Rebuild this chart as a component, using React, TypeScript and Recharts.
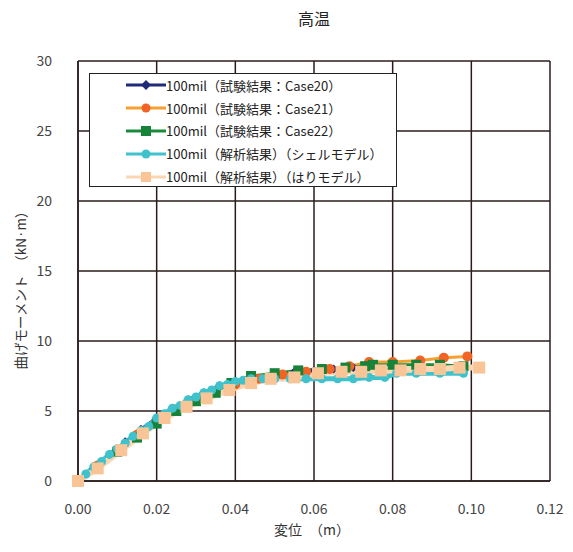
import React from "react"
import {
  LineChart,
  Line,
  XAxis,
  YAxis,
  CartesianGrid,
} from "recharts"

// 変位 (m) / 曲げモーメント (kN·m)
const disp20 = [0, 0.004, 0.008, 0.012, 0.016, 0.02, 0.024, 0.028, 0.032, 0.036, 0.04, 0.045, 0.05, 0.055, 0.06, 0.065, 0.07]
const moment20 = [0, 0.9, 1.9, 2.8, 3.7, 4.5, 5.2, 5.8, 6.3, 6.8, 7.1, 7.4, 7.6, 7.8, 7.9, 8.0, 8.1]

const disp21 = [0, 0.005, 0.01, 0.015, 0.02, 0.025, 0.03, 0.035, 0.04, 0.046, 0.052, 0.058, 0.064, 0.069, 0.074, 0.08, 0.087, 0.093, 0.099]
const moment21 = [0, 1.1, 2.2, 3.3, 4.3, 5.1, 5.8, 6.4, 6.9, 7.3, 7.6, 7.8, 8.0, 8.2, 8.5, 8.5, 8.6, 8.8, 8.9]

const disp22 = [0, 0.005, 0.01, 0.015, 0.02, 0.025, 0.03, 0.035, 0.039, 0.044, 0.05, 0.056, 0.062, 0.068, 0.073, 0.075, 0.08, 0.086, 0.092, 0.098]
const moment22 = [0, 1.0, 2.1, 3.1, 4.1, 5.0, 5.7, 6.3, 7.0, 7.5, 7.7, 7.9, 8.0, 8.1, 8.2, 8.3, 8.3, 8.3, 8.3, 8.2]

const dispShell = [0, 0.002, 0.004, 0.006, 0.008, 0.01, 0.012, 0.014, 0.016, 0.018, 0.02, 0.022, 0.024, 0.026, 0.028, 0.03, 0.032, 0.034, 0.036, 0.038, 0.04, 0.042, 0.044, 0.047, 0.05, 0.054, 0.058, 0.062, 0.066, 0.07, 0.074, 0.078, 0.081, 0.086, 0.092, 0.098]
const momentShell = [0, 0.5, 1.0, 1.4, 1.9, 2.3, 2.7, 3.2, 3.6, 3.9, 4.5, 4.8, 5.2, 5.4, 5.8, 6.0, 6.3, 6.5, 6.8, 6.9, 7.1, 7.2, 7.3, 7.3, 7.3, 7.3, 7.3, 7.3, 7.3, 7.3, 7.4, 7.4, 7.7, 7.7, 7.7, 7.7]

const dispBeam = [0, 0.005, 0.011, 0.0165, 0.022, 0.0276, 0.0327, 0.0385, 0.044, 0.049, 0.055, 0.061, 0.067, 0.072, 0.077, 0.082, 0.087, 0.092, 0.097, 0.102]
const momentBeam = [0, 0.9, 2.2, 3.4, 4.5, 5.3, 5.9, 6.5, 7.0, 7.3, 7.4, 7.7, 7.8, 7.8, 7.9, 7.9, 8.0, 8.0, 8.1, 8.1]

const xTicks = [0, 0.02, 0.04, 0.06, 0.08, 0.1, 0.12]
const yTicks = [0, 5, 10, 15, 20, 25, 30]

const toPoints = (xs: number[], ys: number[]) => xs.map((x, i) => ({ x, y: ys[i] }))

const FONT = '"Noto Sans CJK JP", "Noto Sans", sans-serif'
const GRID = "#2a1c1c"

type Shape = "diamond" | "circle" | "square"

const series = [
  { name: "100mil（試験結果：Case20）", data: toPoints(disp20, moment20), line: "#1f2a78", mark: "#1f2a78", shape: "diamond" as Shape, size: 4.5, width: 3 },
  { name: "100mil（試験結果：Case21）", data: toPoints(disp21, moment21), line: "#f5a030", mark: "#f26424", shape: "circle" as Shape, size: 5, width: 3 },
  { name: "100mil（試験結果：Case22）", data: toPoints(disp22, moment22), line: "#1a8a3c", mark: "#17823a", shape: "square" as Shape, size: 5, width: 3 },
  { name: "100mil（解析結果）（シェルモデル）", data: toPoints(dispShell, momentShell), line: "#40c2cc", mark: "#40c2cc", shape: "circle" as Shape, size: 4.5, width: 5 },
  { name: "100mil（解析結果）（はりモデル）", data: toPoints(dispBeam, momentBeam), line: "#fdd6b2", mark: "#f9c596", shape: "square" as Shape, size: 6, width: 6 },
]

function marker(shape: Shape, color: string, r: number) {
  return (props: any) => {
    const { cx, cy, index } = props
    if (cx == null || cy == null) return <g key={index} />
    if (shape === "circle") return <circle key={index} cx={cx} cy={cy} r={r} fill={color} />
    if (shape === "square")
      return <rect key={index} x={cx - r} y={cy - r} width={r * 2} height={r * 2} fill={color} />
    return (
      <polygon
        key={index}
        points={`${cx},${cy - r} ${cx + r},${cy} ${cx},${cy + r} ${cx - r},${cy}`}
        fill={color}
      />
    )
  }
}

function LegendBox() {
  return (
    <div
      style={{
        position: "absolute",
        left: 89,
        top: 73,
        width: 308,
        height: 114,
        border: "1.5px solid #222",
        background: "#fff",
        boxSizing: "border-box",
        fontFamily: FONT,
        fontSize: 13,
        color: "#222",
      }}
    >
      {series.map((s) => (
        <div key={s.name} style={{ display: "flex", alignItems: "center", height: 22.8 }}>
          <svg width={40} height={14} style={{ marginLeft: 36, marginRight: 0 }}>
            <line x1={0} y1={7} x2={40} y2={7} stroke={s.line} strokeWidth={3} />
            {s.shape === "circle" && <circle cx={20} cy={7} r={4.5} fill={s.mark} />}
            {s.shape === "square" && <rect x={15} y={2} width={10} height={10} fill={s.mark} />}
            {s.shape === "diamond" && <polygon points="20,2 25,7 20,12 15,7" fill={s.mark} />}
          </svg>
          <span>{s.name}</span>
        </div>
      ))}
    </div>
  )
}

function AxisTitles() {
  return (
    <svg
      width={573}
      height={552}
      style={{ position: "absolute", left: 0, top: 0, pointerEvents: "none" }}
    >
      <text
        x={312}
        y={535}
        textAnchor="middle"
        fontFamily={FONT}
        fontSize={14}
        fill="#333"
      >
        変位　（m）
      </text>
      <text
        x={26}
        y={287}
        textAnchor="middle"
        fontFamily={FONT}
        fontSize={13.5}
        fill="#333"
        transform="rotate(-90 26 287)"
      >
        曲げモーメント　（kN·m）
      </text>
    </svg>
  )
}

export default function App() {
  return (
    <div style={{ position: "absolute", left: 0, top: 0, width: 573, height: 552, background: "#fff" }}>
      <div
        style={{
          position: "absolute",
          left: 0,
          width: 628,
          top: 6,
          textAlign: "center",
          fontFamily: FONT,
          fontSize: 16,
          color: "#222",
        }}
      >
        高温
      </div>
      <LineChart width={573} height={552} margin={{ top: 61, right: 23, left: 0, bottom: 0 }}>
        <CartesianGrid stroke={GRID} strokeWidth={1.5} horizontalValues={yTicks} verticalValues={xTicks} />
        <XAxis
          type="number"
          dataKey="x"
          domain={[0, 0.12]}
          ticks={xTicks}
          tickFormatter={(v: number) => v.toFixed(2)}
          tick={{ fill: "#444", fontSize: 14, fontFamily: FONT }}
          tickLine={false}
          axisLine={{ stroke: GRID, strokeWidth: 1.5 }}
          tickMargin={17}
          height={71}
        />
        <YAxis
          type="number"
          dataKey="y"
          domain={[0, 30]}
          ticks={yTicks}
          tick={{ fill: "#444", fontSize: 14, fontFamily: FONT }}
          tickLine={false}
          axisLine={{ stroke: GRID, strokeWidth: 1.5 }}
          tickMargin={20}
          width={78}
        />
        {series.map((s) => (
          <Line
            key={s.name}
            data={s.data}
            dataKey="y"
            type="linear"
            stroke={s.line}
            strokeWidth={s.width}
            dot={marker(s.shape, s.mark, s.size)}
            activeDot={false}
            isAnimationActive={false}
          />
        ))}
      </LineChart>
      <AxisTitles />
      <LegendBox />
    </div>
  )
}
